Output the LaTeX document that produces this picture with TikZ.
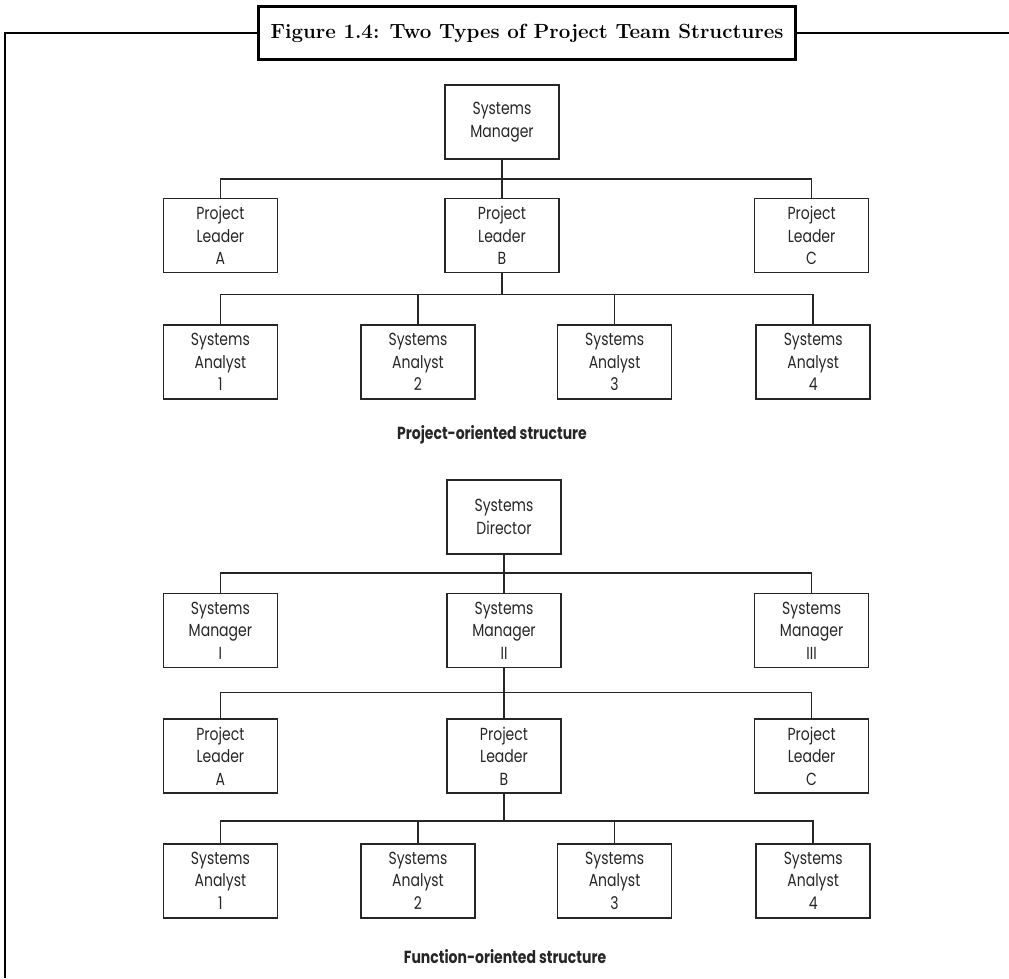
\documentclass[tikz,border=0pt]{standalone}
\usepackage{fontspec}
\newfontfamily\unitfont{Poppins}[FakeStretch=0.8]
\usetikzlibrary{positioning}
\definecolor{inkgray}{RGB}{38,38,38}
\tikzset{
  unit/.style={
    draw=inkgray,
    line width=1.6pt,
    minimum width=114pt,
    minimum height=74pt,
    align=center,
    inner sep=2pt,
    font=\unitfont\fontsize{17.5}{22.5}\selectfont,
    text=inkgray
  },
  link/.style={draw=inkgray, line width=1.6pt},
  caption/.style={font=\unitfont\bfseries\fontsize{17.5}{20}\selectfont, text=inkgray},
  titlebox/.style={
    draw=black,
    line width=2.4pt,
    minimum width=537pt,
    minimum height=53pt,
    inner sep=0pt,
    font=\bfseries\fontsize{20.5}{24}\selectfont
  },
  frame/.style={draw=black, line width=2.2pt}
}

\begin{document}
\begin{tikzpicture}[x=1pt, y=1pt]
  \useasboundingbox (0,0) rectangle (1009,-978);

  % title and open frame
  \node[titlebox] (title) at (527,-33) {Figure 1.4: Two Types of Project Team Structures};
  \coordinate (framebot) at (5,-978);
  \coordinate (frametop) at (5,-33);
  \coordinate (frameend) at (1009,-33);
  \draw[frame] (framebot) -- (frametop) -- (title.west);
  \draw[frame] (title.east) -- (frameend);

  % project-oriented structure
  \node[unit] (mgr) at (502,-122) {Systems\\Manager};
  \node[unit, below=38pt of mgr] (leadb) {Project\\Leader\\B};
  \node[unit, left=166pt of leadb] (leada) {Project\\Leader\\A};
  \node[unit, right=194pt of leadb] (leadc) {Project\\Leader\\C};
  \node[unit, below=51pt of leada] (anaone) {Systems\\Analyst\\1};
  \node[unit, right=82pt of anaone] (anatwo) {Systems\\Analyst\\2};
  \node[unit, right=81pt of anatwo] (anathree) {Systems\\Analyst\\3};
  \node[unit, right=83pt of anathree] (anafour) {Systems\\Analyst\\4};

  \draw[link] (mgr) -- (leadb);
  \draw[link] (mgr.south) -- ++(0,-19) -| (leada.north);
  \draw[link] (mgr.south) -- ++(0,-19) -| (leadc.north);
  \foreach \n in {anaone,anatwo,anathree,anafour}
    \draw[link] (leadb.south) -- ++(0,-21) -| (\n.north);

  \node[caption] (projcap) at (492,-435) {Project-oriented structure};

  % function-oriented structure
  \node[unit] (dir) at (504,-517) {Systems\\Director};
  \node[unit, below=38pt of dir] (mgrii) {Systems\\Manager\\II};
  \node[unit, left=168pt of mgrii] (mgri) {Systems\\Manager\\I};
  \node[unit, right=192pt of mgrii] (mgriii) {Systems\\Manager\\III};
  \node[unit, below=50pt of mgrii] (fleadb) {Project\\Leader\\B};
  \node[unit, left=168pt of fleadb] (fleada) {Project\\Leader\\A};
  \node[unit, right=192pt of fleadb] (fleadc) {Project\\Leader\\C};
  \node[unit, below=49pt of fleada] (fanaone) {Systems\\Analyst\\1};
  \node[unit, right=82pt of fanaone] (fanatwo) {Systems\\Analyst\\2};
  \node[unit, right=81pt of fanatwo] (fanathree) {Systems\\Analyst\\3};
  \node[unit, right=83pt of fanathree] (fanafour) {Systems\\Analyst\\4};

  \draw[link] (dir) -- (mgrii);
  \draw[link] (dir.south) -- ++(0,-18) -| (mgri.north);
  \draw[link] (dir.south) -- ++(0,-18) -| (mgriii.north);
  \draw[link] (mgrii) -- (fleadb);
  \draw[link] (mgrii.south) -- ++(0,-24) -| (fleada.north);
  \draw[link] (mgrii.south) -- ++(0,-24) -| (fleadc.north);
  \foreach \n in {fanaone,fanatwo,fanathree,fanafour}
    \draw[link] (fleadb.south) -- ++(0,-27) -| (\n.north);

  \node[caption] (funccap) at (505,-957) {Function-oriented structure};
\end{tikzpicture}
\end{document}
